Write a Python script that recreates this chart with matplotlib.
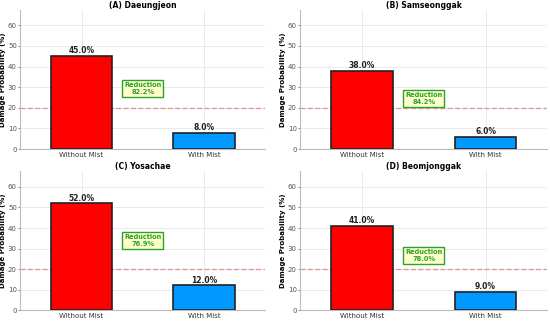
import matplotlib.pyplot as plt
import numpy as np

titles = ['(A) Daeungjeon', '(B) Samseonggak', '(C) Yosachae', '(D) Beomjonggak']
conditions = ['Without Mist', 'With Mist']
without_mist = [45.0, 38.0, 52.0, 41.0]
with_mist = [8.0, 6.0, 12.0, 9.0]
threshold = 20

fig = plt.figure(figsize=(5.5, 3.24), dpi=100)

# axes boxes [left, bottom, width, height]
boxes = [
    [0.037, 0.540, 0.445, 0.430],
    [0.546, 0.540, 0.449, 0.430],
    [0.037, 0.043, 0.445, 0.428],
    [0.546, 0.043, 0.449, 0.428],
]

ymax = max(without_mist) * 1.3

for i in range(4):
    ax = fig.add_axes(boxes[i])
    vals = [without_mist[i], with_mist[i]]
    x = np.arange(len(conditions))
    ax.bar(x, vals, width=0.5, color=['#ff0000', '#0099ff'],
           edgecolor='#222222', linewidth=1.2, zorder=3)
    for xi, v in zip(x, vals):
        ax.text(xi, v + 0.4, f'{v:.1f}%', ha='center', va='bottom',
                fontsize=5.5, fontweight='bold', color='#222222')
    ax.axhline(threshold, color='#e06060', linestyle='--', linewidth=1.0,
               alpha=0.6, zorder=2)
    red = (vals[0] - vals[1]) / vals[0] * 100
    ax.text(0.5, vals[0] * 0.65, f'Reduction\n{red:.1f}%', ha='center', va='center',
            fontsize=4.8, fontweight='bold', color='#2ca02c',
            bbox=dict(boxstyle='square,pad=0.3', facecolor='#ffffcc',
                      edgecolor='#2ca02c', linewidth=1.0), zorder=4)
    ax.set_xlim(-0.5, 1.5)
    ax.set_ylim(0, ymax)
    ax.set_xticks(x)
    ax.set_xticklabels(conditions, fontsize=5, color='#333333')
    ax.set_yticks(np.arange(0, 61, 10))
    ax.tick_params(axis='y', labelsize=5, colors='#555555', length=1.5, width=0.5, pad=1)
    ax.tick_params(axis='x', length=0, pad=2)
    ax.set_title(titles[i], fontsize=5.5, fontweight='bold', pad=1.5)
    ax.set_ylabel('Damage Probability (%)', fontsize=5, fontweight='bold', labelpad=1)
    ax.grid(True, color='#e6e6e6', linewidth=0.6, zorder=0)
    ax.set_axisbelow(True)
    ax.spines['top'].set_visible(False)
    ax.spines['right'].set_visible(False)
    ax.spines['left'].set_color('#bbbbbb')
    ax.spines['bottom'].set_color('#bbbbbb')
    ax.spines['left'].set_linewidth(0.8)
    ax.spines['bottom'].set_linewidth(0.8)

plt.savefig('out.png', dpi=100)
plt.close()
